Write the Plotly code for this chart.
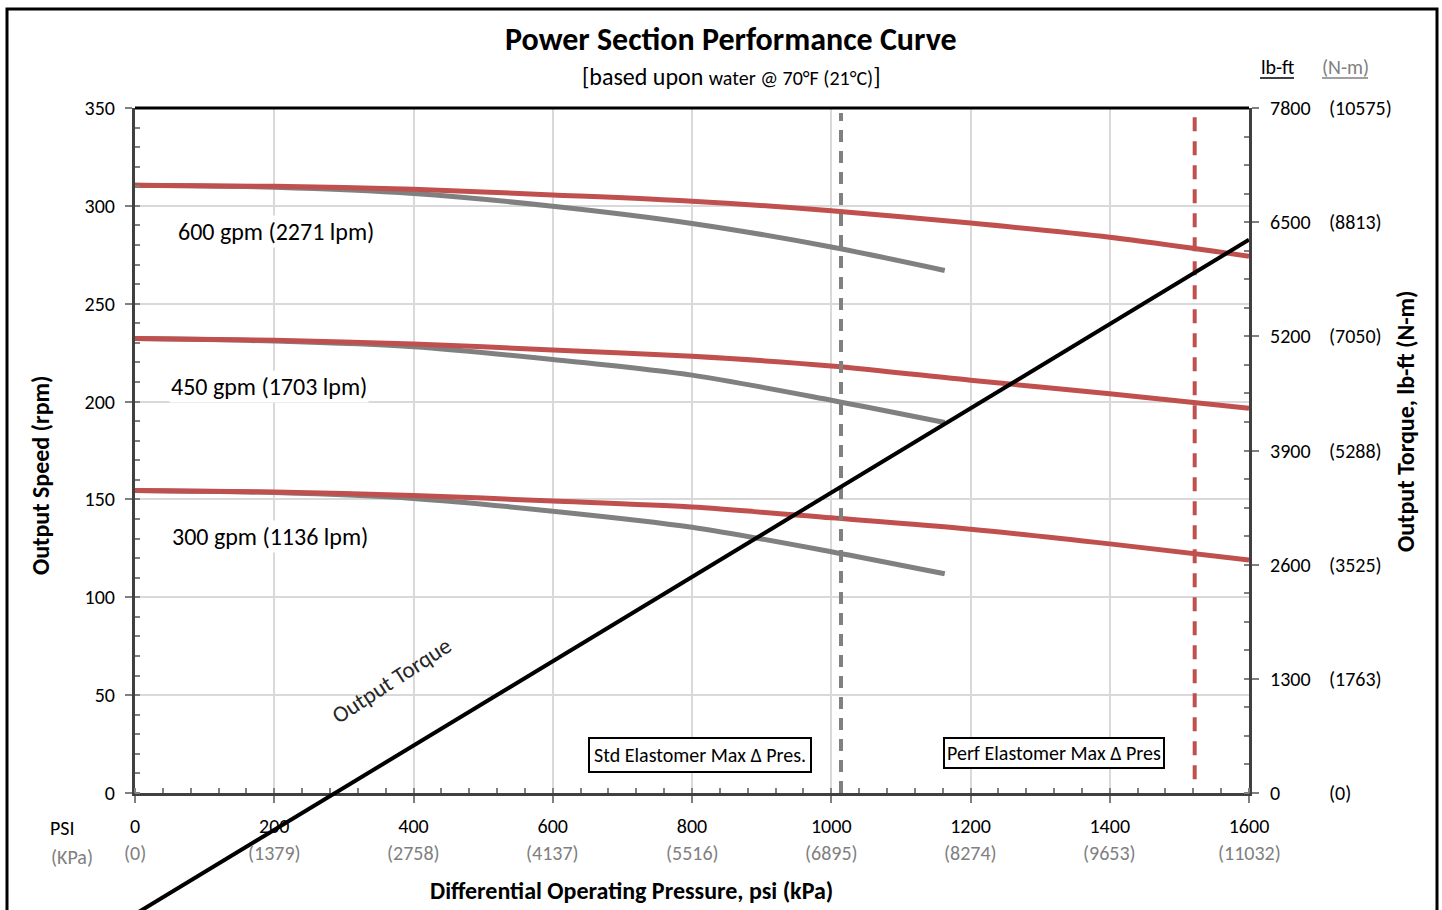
import plotly.graph_objects as go

FONT = "Carlito, Lato, sans-serif"
W, H = 1442, 910
# plot-area pixel box (used only for layout domains)
PX_L, PX_R, PX_T, PX_B = 135, 1249, 108, 793

RED = "#C0504D"
GRAY = "#808080"

# ---------------- data ----------------
psi_full = [0, 200, 400, 600, 800, 1000, 1200, 1400, 1600]
psi_std = [0, 200, 400, 600, 800, 1000, 1163]

perf_600 = [310.5, 310.0, 308.5, 305.6, 302.4, 297.5, 291.2, 284.0, 274.3]
perf_450 = [232.2, 231.3, 229.4, 226.4, 223.1, 218.2, 210.9, 204.0, 196.6]
perf_300 = [154.6, 153.8, 152.0, 149.2, 146.1, 140.6, 134.8, 127.3, 119.0]

std_600 = [310.5, 309.5, 306.3, 299.8, 291.0, 279.0, 267.0]
std_450 = [232.2, 230.9, 228.0, 221.5, 213.5, 200.7, 189.3]
std_300 = [154.6, 153.5, 150.5, 144.0, 135.8, 123.3, 112.0]

torque_psi = [0, 1600]
torque_lbft = [-1380, 6300]

std_max_psi = 1014
perf_max_psi = 1522

flow_labels = ["600 gpm (2271 lpm)", "450 gpm (1703 lpm)", "300 gpm (1136 lpm)"]
flow_label_pos = [(202, 286.7), (192, 207.7), (194, 131.1)]

x_ticks = [0, 200, 400, 600, 800, 1000, 1200, 1400, 1600]
x_kpa = ["(0)", "(1379)", "(2758)", "(4137)", "(5516)", "(6895)", "(8274)", "(9653)", "(11032)"]
y_ticks = [0, 50, 100, 150, 200, 250, 300, 350]
t_ticks = [0, 1300, 2600, 3900, 5200, 6500, 7800]
t_nm = ["(0)", "(1763)", "(3525)", "(5288)", "(7050)", "(8813)", "(10575)"]

# ---------------- figure ----------------
fig = go.Figure()

# std (gray) curves first, perf (red) on top
for ys in (std_600, std_450, std_300):
    fig.add_trace(go.Scatter(x=psi_std, y=ys, mode="lines",
                             line=dict(color=GRAY, width=5, shape="spline", smoothing=0.8),
                             xaxis="x", yaxis="y", hoverinfo="skip"))
for ys in (perf_600, perf_450, perf_300):
    fig.add_trace(go.Scatter(x=psi_full, y=ys, mode="lines",
                             line=dict(color=RED, width=5, shape="spline", smoothing=0.8),
                             xaxis="x", yaxis="y", hoverinfo="skip"))

# max pressure dashed lines
fig.add_trace(go.Scatter(x=[std_max_psi, std_max_psi], y=[0, 347.5], mode="lines",
                         line=dict(color=GRAY, width=4, dash="12px,9px"),
                         xaxis="x", yaxis="y", hoverinfo="skip"))
fig.add_trace(go.Scatter(x=[perf_max_psi, perf_max_psi], y=[7, 347.5], mode="lines",
                         line=dict(color=RED, width=4, dash="14px,10px"),
                         xaxis="x", yaxis="y", hoverinfo="skip"))

# dummy trace to activate right axis
fig.add_trace(go.Scatter(x=[0], y=[0], mode="markers", marker=dict(opacity=0),
                         xaxis="x", yaxis="y2", hoverinfo="skip"))

# torque line on an unclipped full-height overlay axis with same pixel scale as y2
t_per_px = 7800 / (PX_B - PX_T)
y3_range = [-(H - PX_B) * t_per_px, PX_B * t_per_px]
fig.add_trace(go.Scatter(x=torque_psi, y=torque_lbft, mode="lines",
                         line=dict(color="black", width=4),
                         xaxis="x3", yaxis="y3", hoverinfo="skip"))

xdom = [PX_L / W, PX_R / W]
ydom = [1 - PX_B / H, 1 - PX_T / H]

axis_line = dict(showline=True, linecolor="#404040", linewidth=3, mirror=False)

fig.update_layout(
    width=W, height=H,
    margin=dict(l=0, r=0, t=0, b=0),
    paper_bgcolor="white",
    plot_bgcolor="rgba(0,0,0,0)",
    showlegend=False,
    font=dict(family=FONT, size=20, color="black"),
    xaxis=dict(domain=xdom, range=[0, 1600], tickvals=x_ticks,
               showgrid=True, gridcolor="#D9D9D9", gridwidth=1.5,
               ticks="outside", ticklen=7, tickcolor=GRAY, tickwidth=1.5,
               minor=dict(dtick=40, ticks="inside", ticklen=5, tickcolor=GRAY, showgrid=False),
               tickfont=dict(size=20, family=FONT), ticklabelstandoff=6,
               zeroline=False, anchor="y", automargin=False, **axis_line),
    yaxis=dict(domain=ydom, range=[0, 350], tickvals=y_ticks,
               showgrid=True, gridcolor="#D9D9D9", gridwidth=1.5,
               ticks="outside", ticklen=7, tickcolor=GRAY, tickwidth=1.5,
               minor=dict(dtick=10, ticks="inside", ticklen=5, tickcolor=GRAY, showgrid=False),
               tickfont=dict(size=20, family=FONT), ticklabelstandoff=6,
               zeroline=False, anchor="x", automargin=False, **axis_line),
    yaxis2=dict(overlaying="y", side="right", range=[0, 7800], tickvals=t_ticks,
                showgrid=False, showticklabels=False,
                ticks="outside", ticklen=7, tickcolor=GRAY, tickwidth=1.5,
                minor=dict(dtick=325, ticks="inside", ticklen=5, tickcolor=GRAY, showgrid=False),
                zeroline=False, anchor="x", automargin=False, **axis_line),
    xaxis3=dict(domain=xdom, range=[0, 1600], visible=False, anchor="y3"),
    yaxis3=dict(domain=[0, 1], range=y3_range, visible=False, anchor="x3"),
)

shapes = []
# plot area top edge (black)
shapes.append(dict(type="line", xref="paper", yref="paper", x0=PX_L / W, x1=PX_R / W,
                   y0=ydom[1], y1=ydom[1], line=dict(color="black", width=3)))
# outer frame
shapes.append(dict(type="rect", xref="paper", yref="paper", x0=7 / W, x1=1437 / W,
                   y0=-0.02, y1=1 - 9 / H, line=dict(color="black", width=3),
                   fillcolor="rgba(0,0,0,0)"))
# underlines for header units
shapes.append(dict(type="line", xref="paper", yref="paper", x0=1260 / W, x1=1294 / W,
                   y0=1 - 78 / H, y1=1 - 78 / H, line=dict(color="black", width=1.5)))
shapes.append(dict(type="line", xref="paper", yref="paper", x0=1322 / W, x1=1368 / W,
                   y0=1 - 78 / H, y1=1 - 78 / H, line=dict(color=GRAY, width=1.5)))
fig.update_layout(shapes=shapes)

ann = []
def pa(x, y, text, **kw):
    d = dict(xref="paper", yref="paper", x=x / W, y=1 - y / H, text=text, showarrow=False,
             xanchor="center", yanchor="middle",
             font=dict(family=FONT, size=kw.pop("size", 20), color=kw.pop("color", "black")))
    d.update(kw)
    ann.append(d)

pa(731, 40, "<b>Power Section Performance Curve</b>", size=32)
pa(731, 76, "[based upon <span style='font-size:20px'>water @ 70°F (21°C)</span>]", size=24)
pa(1277, 67, "lb-ft", size=20)
pa(1345, 67, "(N-m)", size=20, color=GRAY)
pa(40, 475, "<b>Output Speed (rpm)</b>", size=24, textangle=-90)
pa(1405, 421, "<b>Output Torque, lb-ft (N-m)</b>", size=24, textangle=-90)
pa(631, 890, "<b>Differential Operating Pressure, psi (kPa)</b>", size=24)
pa(62, 828, "PSI", size=20)
pa(72, 857, "(KPa)", size=20, color=GRAY)

# kPa row under psi tick labels
for xv, t in zip(x_ticks, x_kpa):
    ann.append(dict(xref="x", yref="paper", x=xv, y=1 - 853 / H, text=t, showarrow=False,
                    xanchor="center", yanchor="middle",
                    font=dict(family=FONT, size=20, color=GRAY)))
# right axis labels
for tv, nm in zip(t_ticks, t_nm):
    ann.append(dict(xref="paper", yref="y2", x=1268 / W, y=tv, text=str(tv), showarrow=False,
                    xanchor="left", yanchor="middle",
                    font=dict(family=FONT, size=20, color="black")))
    ann.append(dict(xref="paper", yref="y2", x=1327 / W, y=tv, text=nm, showarrow=False,
                    xanchor="left", yanchor="middle",
                    font=dict(family=FONT, size=20, color="black")))

# flow labels
for txt, (xv, yv) in zip(flow_labels, flow_label_pos):
    ann.append(dict(xref="x", yref="y", x=xv, y=yv, text=txt, showarrow=False,
                    xanchor="center", yanchor="middle",
                    bgcolor="white", font=dict(family=FONT, size=24, color="black")))

# output torque label
ann.append(dict(xref="x", yref="y", x=369, y=57.7, text="Output Torque", showarrow=False,
                xanchor="center", yanchor="middle",
                textangle=-33, font=dict(family=FONT, size=23, color="#262626")))

# elastomer boxes
ann.append(dict(xref="x", yref="y", x=810.8, y=19.4, text="Std Elastomer Max Δ Pres.",
                showarrow=False, xanchor="center", yanchor="middle",
                bgcolor="white", bordercolor="black", borderwidth=2,
                borderpad=4, font=dict(family=FONT, size=20, color="black")))
ann.append(dict(xref="x", yref="y", x=1320, y=20.4, text="Perf Elastomer Max Δ Pres",
                showarrow=False, xanchor="center", yanchor="middle",
                bgcolor="white", bordercolor="black", borderwidth=2,
                borderpad=2, font=dict(family=FONT, size=20, color="black")))

fig.update_layout(annotations=ann)

fig.write_html("out.html", config={"displayModeBar": False},
               post_script="document.body.style.margin='0';document.body.style.overflow='hidden';")
